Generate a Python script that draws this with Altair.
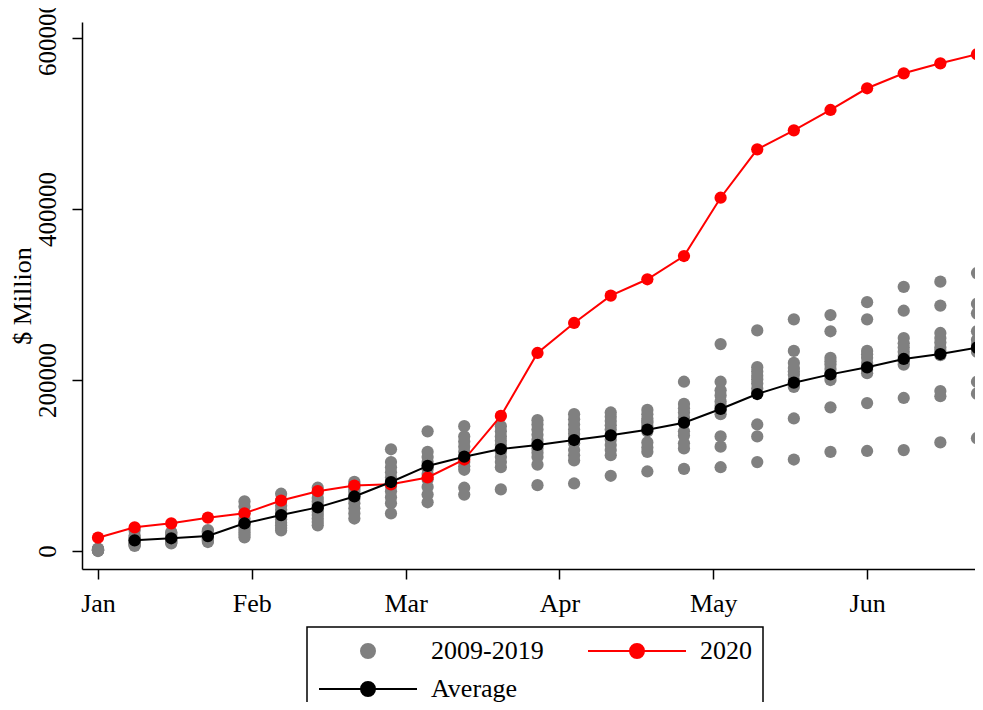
import altair as alt
import pandas as pd

# ---------------- data ----------------
weeks = list(range(1, 26))
month_labels = ["Jan", "Feb", "Mar", "Apr", "May", "Jun"]
month_ticks = [1, 5.2, 9.4, 13.6, 17.8, 22]
y_ticks = [0, 200000, 400000, 600000]

series_2020 = [15600, 27700, 32400, 39000, 44100, 59000, 70000, 76500, 78000,
               86000, 107000, 158000, 231600, 266700, 298600, 317800, 345000,
               413200, 469800, 492000, 515800, 541200, 558700, 570400, 581000]

avg_weeks = list(range(2, 26))
series_avg = [12500, 14900, 17500, 32400, 42000, 51000, 63800, 80700, 99500,
              110300, 119300, 124000, 129800, 135300, 141900, 150100, 166100,
              183600, 196900, 206600, 214800, 224600, 230400, 237800]

hist_w01 = [0, 300, 600, 900, 1200, 1500, 1800, 2100, 2400, 2700, 1000]
hist_w02 = [6000, 7000, 8000, 9000, 10000, 12000, 13000, 14000, 16000, 18000, 24000]
hist_w03 = [9000, 10000, 11000, 12000, 13000, 14000, 15000, 17000, 19000, 21000, 22000]
hist_w04 = [10500, 12000, 13000, 14000, 15000, 17000, 18000, 20000, 22000, 23000, 24500]
hist_w05 = [16000, 19000, 22000, 25000, 28000, 31000, 34000, 38000, 44000, 52000, 58000]
hist_w06 = [24000, 27000, 30000, 33000, 37000, 40000, 44000, 48000, 53000, 59000, 67000]
hist_w07 = [30000, 34000, 38000, 42000, 46000, 50000, 54000, 58000, 62000, 68000, 74000]
hist_w08 = [38000, 44000, 50000, 56000, 61000, 65000, 69000, 72000, 75000, 78000, 81000]
hist_w09 = [119000, 104000, 98000, 92000, 86000, 80000, 76000, 70000, 63000, 56000, 44000]
hist_w10 = [140000, 116000, 110000, 104000, 100000, 96000, 90000, 84000, 75000, 66000, 57000]
hist_w11 = [146000, 134000, 128000, 122000, 116000, 110000, 104000, 99000, 95000, 74000, 66000]
hist_w12 = [146000, 140000, 134000, 129000, 124000, 120000, 116000, 110000, 104000, 98000, 72000]
hist_w13 = [153000, 148000, 142000, 136000, 130000, 126000, 120000, 115000, 110000, 101000, 77000]
hist_w14 = [160000, 154000, 148000, 142000, 137000, 132000, 126000, 118000, 112000, 106000, 79000]
hist_w15 = [162000, 157000, 152000, 147000, 142000, 136000, 130000, 124000, 118000, 112000, 88000]
hist_w16 = [165000, 160000, 155000, 152000, 150000, 146000, 140000, 127000, 121000, 116000, 93000]
hist_w17 = [198000, 172000, 167000, 162000, 156000, 150000, 140000, 135000, 126000, 120000, 96000]
hist_w18 = [242000, 198000, 188000, 182000, 175000, 170000, 165000, 160000, 134000, 122000, 98000]
hist_w19 = [258000, 215000, 210000, 205000, 201000, 196000, 185000, 148000, 134000, 104000, 190000]
hist_w20 = [271000, 234000, 220000, 214000, 206000, 200000, 196000, 192000, 155000, 107000, 210000]
hist_w21 = [276000, 257000, 226000, 222000, 218000, 213000, 208000, 204000, 200000, 168000, 116000]
hist_w22 = [291000, 271000, 234000, 230000, 226000, 220000, 216000, 212000, 208000, 173000, 117000]
hist_w23 = [309000, 281000, 249000, 243000, 238000, 233000, 228000, 222000, 218000, 179000, 118000]
hist_w24 = [315000, 287000, 255000, 249000, 244000, 238000, 234000, 229000, 187000, 181000, 127000]
hist_w25 = [325000, 289000, 278000, 257000, 247000, 241000, 236000, 233000, 198000, 184000, 132000]

hist_by_week = [hist_w01, hist_w02, hist_w03, hist_w04, hist_w05, hist_w06, hist_w07,
                hist_w08, hist_w09, hist_w10, hist_w11, hist_w12, hist_w13, hist_w14,
                hist_w15, hist_w16, hist_w17, hist_w18, hist_w19, hist_w20, hist_w21,
                hist_w22, hist_w23, hist_w24, hist_w25]

# legend entries (filled column by column: 2009-2019 / Average, then 2020)
legend_names = ["2009-2019", "Average", "2020"]
legend_colors = ["#808080", "#000000", "#ff0000"]

# ---------------- tables ----------------
hist_df = pd.DataFrame(
    [{"week": w, "value": v} for w, vals in zip(weeks, hist_by_week) for v in vals]
)
red_df = pd.DataFrame({"week": weeks, "value": series_2020})
avg_df = pd.DataFrame({"week": avg_weeks, "value": series_avg})
legend_df = pd.DataFrame({"series": legend_names,
                          "week": [None] * len(legend_names),
                          "value": [None] * len(legend_names)})

FONT = "Liberation Serif"

dot_path = "M-1,0A1,1,0,1,0,1,0A1,1,0,1,0,-1,0Z"
line_dot_path = "M-7,0L7,0M-1,0A1,1,0,1,0,1,0A1,1,0,1,0,-1,0Z"
legend_shapes = [dot_path, line_dot_path, line_dot_path]

x_enc = alt.X(
    "week:Q",
    scale=alt.Scale(domain=[0.5631, 24.946], nice=False, zero=False),
    axis=alt.Axis(values=month_ticks,
                  labelExpr=f"{month_labels}[round((datum.value - 1) / 4.2)]",
                  title=None, grid=False, labelFontSize=26, labelPadding=11,
                  labelFlush=False, labelOverlap=False),
)
y_enc = alt.Y(
    "value:Q",
    scale=alt.Scale(domain=[-21040, 618700], nice=False, zero=False),
    axis=alt.Axis(values=y_ticks, format="d", title="$ Million", grid=False,
                  labelAngle=270, labelAlign="center", labelBaseline="alphabetic",
                  labelPadding=17, labelFontSize=25, labelFlush=False,
                  titleAngle=270, titleAlign="center", titleBaseline="alphabetic",
                  titleX=-52, titleY=273.5, titleFontSize=26,
                  titleFontWeight="normal"),
)

hist_layer = alt.Chart(hist_df).mark_circle(size=150, color="#808080", opacity=1).encode(
    x=x_enc, y=y_enc)

red_line = alt.Chart(red_df).mark_line(color="#ff0000", strokeWidth=2).encode(x=x_enc, y=y_enc)
red_pts = alt.Chart(red_df).mark_circle(size=150, color="#ff0000", opacity=1).encode(x=x_enc, y=y_enc)

avg_line = alt.Chart(avg_df).mark_line(color="#000000", strokeWidth=2).encode(x=x_enc, y=y_enc)
avg_pts = alt.Chart(avg_df).mark_circle(size=150, color="#000000", opacity=1).encode(x=x_enc, y=y_enc)

leg = alt.Legend(title=None, orient="none", legendX=225, legendY=605, columns=2,
                 symbolSize=196, symbolOffset=37, labelOffset=50, padding=11,
                 rowPadding=12, columnPadding=40, labelFont=FONT, labelFontSize=26,
                 labelColor="black", symbolStrokeWidth=2, symbolOpacity=1,
                 strokeColor="black", labelLimit=400)

legend_layer = alt.Chart(legend_df).mark_point(filled=True, opacity=1, strokeWidth=2).encode(
    x=x_enc, y=y_enc,
    fill=alt.Fill("series:N", scale=alt.Scale(domain=legend_names, range=legend_colors), legend=leg),
    stroke=alt.Stroke("series:N", scale=alt.Scale(domain=legend_names, range=legend_colors), legend=leg),
    shape=alt.Shape("series:N", scale=alt.Scale(domain=legend_names, range=legend_shapes), legend=leg),
)

chart = alt.layer(hist_layer, red_line, red_pts, avg_line, avg_pts, legend_layer).properties(
    width=893, height=547,
    autosize=alt.AutoSizeParams(type="none"),
    padding={"left": 74, "top": 14, "right": 0, "bottom": 133},
).configure_view(stroke=None).configure_axis(
    domainColor="black", domainWidth=1.5, tickColor="black", tickWidth=1.5, tickSize=10,
    labelFont=FONT, labelColor="black", titleFont=FONT, titleColor="black",
).configure_legend(strokeWidth=1.5)

chart.save("out.html", embed_options={"renderer": "svg", "actions": False})
